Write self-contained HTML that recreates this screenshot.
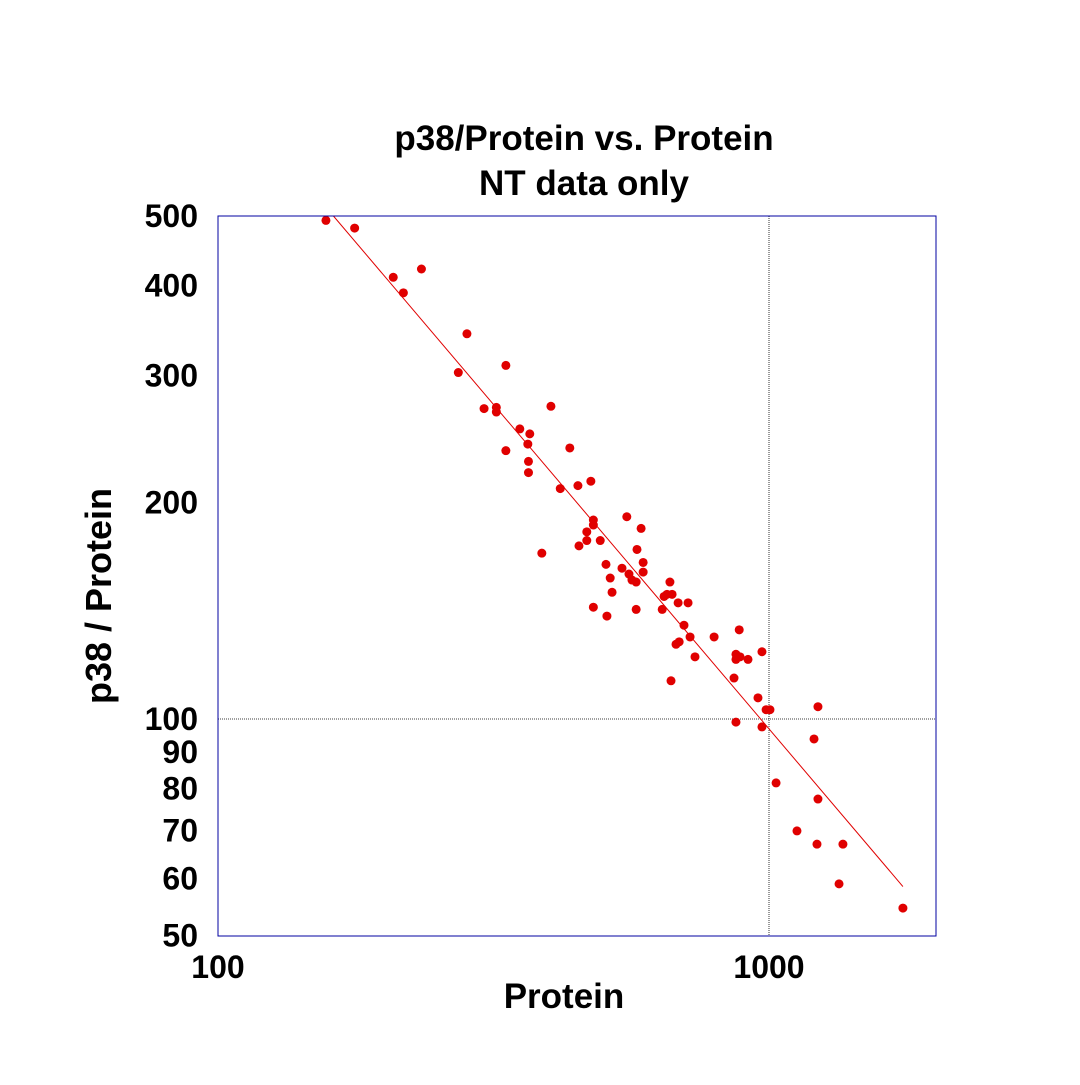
<!DOCTYPE html>
<html><head><meta charset="utf-8"><style>
html,body{margin:0;padding:0;background:#fff;}
svg text{font-family:"Liberation Sans",Arial,sans-serif;font-weight:bold;fill:#000;}
</style></head><body>
<svg id="chart" width="1080" height="1080" viewBox="0 0 1080 1080" xmlns="http://www.w3.org/2000/svg">
<rect width="1080" height="1080" fill="#fff"/>
<text x="584" y="150" font-size="35" text-anchor="middle">p38/Protein vs. Protein</text>
<text x="584" y="195" font-size="35" text-anchor="middle">NT data only</text>
<text x="564" y="1008" font-size="35" text-anchor="middle">Protein</text>
<text transform="translate(111,596) rotate(-90)" font-size="36" text-anchor="middle">p38 / Protein</text>
<defs><clipPath id="clip"><rect x="218" y="216" width="718" height="720"/></clipPath></defs>
<g id="grid"></g>
<g id="marks" clip-path="url(#clip)"></g>
<rect x="218" y="216" width="718" height="720" fill="none" stroke="#0000a0" stroke-width="1"/>
<g id="ticks"></g>
</svg>
<script>
const xValues=[157,177,208,234,217,283,273,333,304,320,320,402,353,368,365,333,366,366,435,418,450,475,387,452,467,467,480,480,494,552,586,576,506,541,591,591,557,564,574,515,519,480,508,574,661,653,645,667,640,684,713,701,719,687,678,734,664,795,883,871,886,871,916,971,864,955,988,1004,871,971,1227,1207,1030,1227,1124,1222,1362,1340,1750];
const yValues=[493,481,411,422,391,343,303,310,270,271,267,272,253,249,241,236,228,220,238,209,211,214,170,174,177,182,186,189,177,191,184,172,164,162,165,160,159,156,155,157,150,143,139,142,155,149,148,149,142,145,145,135,130,128,127,122,113,130,133,123,122,121,121,124,114,107,103,103,99,97.5,104,93.8,81.5,77.4,69.9,67,67,59,54.6];
const fitX=[162,1750];
const fitY=[500,58.5];
const xTicks=[100,1000];
const yTicks=[500,400,300,200,100,90,80,70,60,50];
const gridX=[1000];
const gridY=[100];

const NS="http://www.w3.org/2000/svg";
function sx(v){return 218+551*Math.log10(v/100);}
function sy(v){return 216+719.6*Math.log10(500/v);}
function mk(tag,attrs,parent){const e=document.createElementNS(NS,tag);for(const k in attrs)e.setAttribute(k,attrs[k]);document.getElementById(parent).appendChild(e);return e;}

gridX.forEach(v=>{const l=mk('line',{x1:sx(v),x2:sx(v),y1:216,y2:936,stroke:'#000','stroke-width':0.8,'stroke-dasharray':'1,1'},'grid');

});
gridY.forEach(v=>{const l=mk('line',{x1:218,x2:936,y1:sy(v),y2:sy(v),stroke:'#000','stroke-width':0.8,'stroke-dasharray':'1,1'},'grid');

});

const fl=mk('line',{x1:sx(fitX[0]),y1:sy(fitY[0]),x2:sx(fitX[1]),y2:sy(fitY[1]),stroke:'#e00000','stroke-width':1},'marks');



xValues.forEach((v,i)=>{const c=mk('circle',{cx:sx(v),cy:sy(yValues[i]),r:4.5,fill:'#e00000'},'marks');

});

xTicks.forEach(v=>{const t=mk('text',{x:sx(v),y:978,'font-size':32,'text-anchor':'middle'},'ticks');t.textContent=v;

});
yTicks.forEach(v=>{const t=mk('text',{x:198,y:sy(v)+11,'font-size':32,'text-anchor':'end'},'ticks');t.textContent=v;

});
</script>
</body></html>
